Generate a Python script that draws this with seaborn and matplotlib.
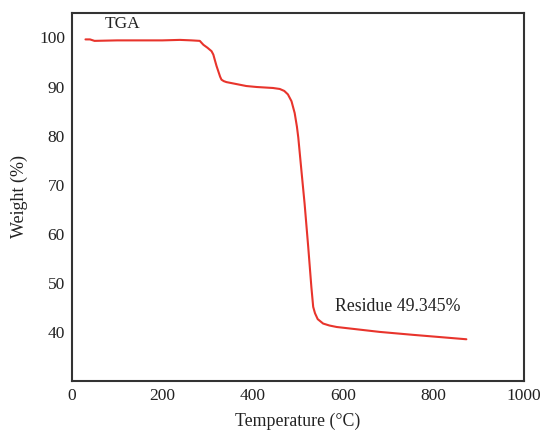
import matplotlib
matplotlib.use("Agg")
import matplotlib.pyplot as plt
import seaborn as sns
import pandas as pd

temperature = [30, 40, 50, 100, 150, 200, 239, 265, 283, 291, 300, 309, 313, 316, 320, 324, 328, 331, 336, 342,
               364, 386, 409, 445, 460, 470, 478, 486, 493, 498, 501, 508, 515, 523, 530, 534,
               538, 544, 556, 570, 586, 681, 755, 873]
weight = [99.6, 99.6, 99.3, 99.4, 99.4, 99.4, 99.5, 99.4, 99.3, 98.5, 97.9, 97.2, 96.5, 95.5, 94.2, 93.1, 92.0, 91.4, 91.1, 90.9,
          90.5, 90.1, 89.9, 89.7, 89.5, 89.1, 88.4, 87.0, 84.6, 81.8, 79.6, 72.8, 66.1, 57.3, 49.1, 45.1,
          43.8, 42.6, 41.7, 41.3, 41.0, 40.0, 39.4, 38.5]
x_ticks = [0, 200, 400, 600, 800, 1000]
y_ticks = [40, 50, 60, 70, 80, 90, 100]

df = pd.DataFrame({"Temperature": temperature, "Weight": weight})

sns.set_theme(style="white")
plt.rcParams['font.family'] = ['Liberation Serif', 'DejaVu Serif']

fig = plt.figure(figsize=(5.49, 4.30), dpi=100)
ax = fig.add_axes([0.131, 0.114, 0.823, 0.856])
sns.lineplot(data=df, x="Temperature", y="Weight", ax=ax, color="#e8342c", linewidth=1.5)

ax.set_xlim(0, 1000)
ax.set_ylim(30, 105)
ax.set_xticks(x_ticks)
ax.set_yticks(y_ticks)
ax.tick_params(axis='both', length=0, labelsize=12.5, colors="#222222", pad=5)
ax.set_xlabel("Temperature (°C)", fontsize=12.8, color="#222222", labelpad=6)
ax.set_ylabel("Weight (%)", fontsize=13, color="#222222", labelpad=8)
for s in ax.spines.values():
    s.set_color("#333333")
    s.set_linewidth(1.5)

ax.text(73, 102.8, "TGA", fontsize=12.5, color="#222222", va="center", ha="left")
ax.text(582, 45.1, "Residue 49.345%", fontsize=12.8, color="#222222", va="center", ha="left")

fig.savefig("out.png", dpi=100)
